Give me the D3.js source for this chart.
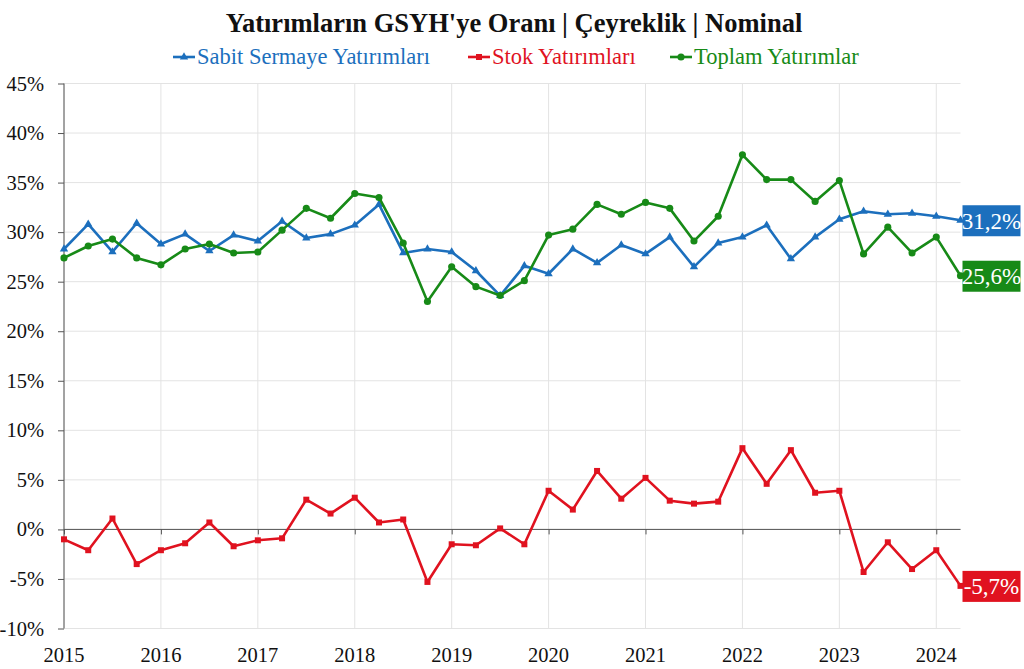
<!DOCTYPE html>
<html>
<head>
<meta charset="utf-8">
<script src="https://cdn.jsdelivr.net/npm/d3@7"></script>
<style>
	body { margin: 0; background: #fff; }
	svg { display: block; font-family: "Liberation Serif", "DejaVu Serif", serif; }
	.grid line { stroke: #e3e3e3; stroke-width: 1; }
	.axis path, .axis line { stroke: #555; }
</style>
</head>
<body>
<svg id="chart" width="1024" height="669"></svg>
<script>
'use strict';

// periods, one per quarter
var periods = [
	'2015Q1', '2015Q2', '2015Q3', '2015Q4',
	'2016Q1', '2016Q2', '2016Q3', '2016Q4',
	'2017Q1', '2017Q2', '2017Q3', '2017Q4',
	'2018Q1', '2018Q2', '2018Q3', '2018Q4',
	'2019Q1', '2019Q2', '2019Q3', '2019Q4',
	'2020Q1', '2020Q2', '2020Q3', '2020Q4',
	'2021Q1', '2021Q2', '2021Q3', '2021Q4',
	'2022Q1', '2022Q2', '2022Q3', '2022Q4',
	'2023Q1', '2023Q2', '2023Q3', '2023Q4',
	'2024Q1', '2024Q2'
];

var sabitValues = [
	28.3, 30.8, 28.0, 30.9,
	28.8, 29.8, 28.1, 29.7,
	29.1, 31.1, 29.4, 29.8,
	30.7, 32.8, 27.9, 28.3,
	28.0, 26.1, 23.6, 26.6,
	25.8, 28.3, 26.9, 28.7,
	27.8, 29.5, 26.5, 28.9,
	29.5, 30.7, 27.3, 29.5,
	31.3, 32.1, 31.8, 31.9,
	31.6, 31.2
];

var stokValues = [
	-1.0, -2.1, 1.1, -3.5,
	-2.1, -1.4, 0.7, -1.7,
	-1.1, -0.9, 3.0, 1.6,
	3.2, 0.7, 1.0, -5.3,
	-1.5, -1.6, 0.1, -1.5,
	3.9, 2.0, 5.9, 3.1,
	5.2, 2.9, 2.6, 2.8,
	8.2, 4.6, 8.0, 3.7,
	3.9, -4.3, -1.3, -4.0,
	-2.1, -5.7
];

var toplamValues = [
	27.4, 28.6, 29.3, 27.4,
	26.7, 28.3, 28.8, 27.9,
	28.0, 30.2, 32.4, 31.4,
	33.9, 33.5, 28.9, 23.0,
	26.5, 24.5, 23.6, 25.1,
	29.7, 30.3, 32.8, 31.8,
	33.0, 32.4, 29.1, 31.6,
	37.8, 35.3, 35.3, 33.1,
	35.2, 27.8, 30.5, 27.9,
	29.5, 25.6
];

var yearTicks = [2015, 2016, 2017, 2018, 2019, 2020, 2021, 2022, 2023, 2024];
var yTicks = [-10, -5, 0, 5, 10, 15, 20, 25, 30, 35, 40, 45];

var titleText = 'Yatırımların GSYH\'ye Oranı | Çeyreklik | Nominal';

var series = [
	{ name: 'Sabit Sermaye Yatırımları', values: sabitValues, color: '#1c6fbd', marker: 'triangle' },
	{ name: 'Stok Yatırımları', values: stokValues, color: '#e0121f', marker: 'square' },
	{ name: 'Toplam Yatırımlar', values: toplamValues, color: '#178a17', marker: 'circle' }
];

var serifFont = '"Liberation Serif", "DejaVu Serif", serif';

var margin = { top: 83.5, left: 64, right: 63.5, bottom: 40.5 },
	svgWidth = 1024,
	svgHeight = 669,
	width = svgWidth - margin.left - margin.right,
	height = svgHeight - margin.top - margin.bottom;

var svg = d3.select('#chart');

// periods -> fractional year, so the year ticks fall on the Q1 points
var periodToYear = function(p) {
	return +p.slice(0, 4) + (+p.slice(5) - 1) / 4;
};

var xScale = d3.scaleLinear()
	.domain([periodToYear(periods[0]), periodToYear(periods[periods.length - 1])])
	.range([0, width]);

var yScale = d3.scaleLinear()
	.domain([-10, 45])
	.range([height, 0]);

// turkish style: comma decimal, plain hyphen for minus
var pctFormat = function(v) {
	return v.toFixed(1).replace('.', ',') + '%';
};

// title
svg.append('text')
	.attr('x', 514)
	.attr('y', 32)
	.attr('text-anchor', 'middle')
	.attr('font-size', 26.5)
	.attr('font-weight', 'bold')
	.attr('fill', '#111')
	.text(titleText);

var plot = svg.append('g')
	.attr('transform', 'translate(' + margin.left + ',' + margin.top + ')');

// grid
var grid = plot.append('g').attr('class', 'grid');

grid.selectAll('.hgrid')
	.data(yTicks)
	.enter()
	.append('line')
	.attr('x1', 0)
	.attr('x2', width)
	.attr('y1', function(d) { return yScale(d); })
	.attr('y2', function(d) { return yScale(d); });

grid.selectAll('.vgrid')
	.data(yearTicks)
	.enter()
	.append('line')
	.attr('x1', function(d) { return xScale(d); })
	.attr('x2', function(d) { return xScale(d); })
	.attr('y1', 0)
	.attr('y2', height);

// y axis
var yAxis = d3.axisLeft(yScale)
	.tickValues(yTicks)
	.tickSize(6)
	.tickPadding(14)
	.tickFormat(function(d) { return d + '%'; });

plot.append('g')
	.attr('class', 'axis axis--y')
	.call(yAxis)
	.call(function(g) {
		g.attr('font-family', null).attr('font-size', null);
		g.select('.domain').attr('d', 'M0,' + height + 'V0');
		g.selectAll('text')
			.style('font-family', serifFont)
			.style('font-size', '20.5px')
			.attr('fill', '#111');
	});

// zero line with year ticks
var xAxis = d3.axisBottom(xScale)
	.tickValues(yearTicks)
	.tickSize(5)
	.tickFormat('');

plot.append('g')
	.attr('class', 'axis axis--x')
	.attr('transform', 'translate(0,' + yScale(0) + ')')
	.call(xAxis)
	.call(function(g) { g.select('.domain').attr('d', 'M0,0H' + width); });

// year labels at the bottom
plot.append('g')
	.selectAll('text')
	.data(yearTicks)
	.enter()
	.append('text')
	.attr('x', function(d) { return xScale(d); })
	.attr('y', height + 33)
	.attr('text-anchor', 'middle')
	.attr('fill', '#111')
	.style('font-family', serifFont)
	.style('font-size', '20.5px')
	.text(function(d) { return d; });

// lines and markers
var line = d3.line()
	.x(function(d) { return xScale(d.x); })
	.y(function(d) { return yScale(d.y); });

var symbolFor = {
	triangle: d3.symbol().type(d3.symbolTriangle).size(30),
	square: d3.symbol().type(d3.symbolSquare).size(36),
	circle: d3.symbol().type(d3.symbolCircle).size(40)
};

series.forEach(function(s) {
	var pts = periods.map(function(p, i) {
		return { x: periodToYear(p), y: s.values[i] };
	});

	var g = plot.append('g');

	g.append('path')
		.datum(pts)
		.attr('fill', 'none')
		.attr('stroke', s.color)
		.attr('stroke-width', 2.6)
		.attr('stroke-linejoin', 'round')
		.attr('d', line);

	g.selectAll('.pt')
		.data(pts)
		.enter()
		.append('path')
		.attr('d', symbolFor[s.marker])
		.attr('fill', s.color)
		.attr('transform', function(d) {
			return 'translate(' + xScale(d.x) + ',' + yScale(d.y) + ')';
		});

	// end label
	var last = pts[pts.length - 1],
		ly = yScale(last.y),
		lx = xScale(last.x) + 2;

	plot.append('rect')
		.attr('x', lx)
		.attr('y', ly - 15)
		.attr('width', 58)
		.attr('height', 31)
		.attr('fill', s.color);

	plot.append('text')
		.attr('x', lx + 29)
		.attr('y', ly + 8.5)
		.attr('text-anchor', 'middle')
		.attr('font-size', 23)
		.attr('fill', '#fff')
		.text(pctFormat(last.y));
});

// legend
var legendX = [173, 468, 670];

var legend = svg.append('g')
	.selectAll('.legend')
	.data(series)
	.enter()
	.append('g')
	.attr('transform', function(d, i) { return 'translate(' + legendX[i] + ',57)'; });

legend.append('line')
	.attr('x1', 0)
	.attr('x2', 22)
	.attr('stroke', function(d) { return d.color; })
	.attr('stroke-width', 2.6);

legend.append('path')
	.attr('d', function(d) { return symbolFor[d.marker](); })
	.attr('transform', 'translate(11,0)')
	.attr('fill', function(d) { return d.color; });

legend.append('text')
	.attr('x', 24)
	.attr('y', 7)
	.attr('font-size', 22.5)
	.attr('fill', function(d) { return d.color; })
	.text(function(d) { return d.name; });
</script>
</body>
</html>
